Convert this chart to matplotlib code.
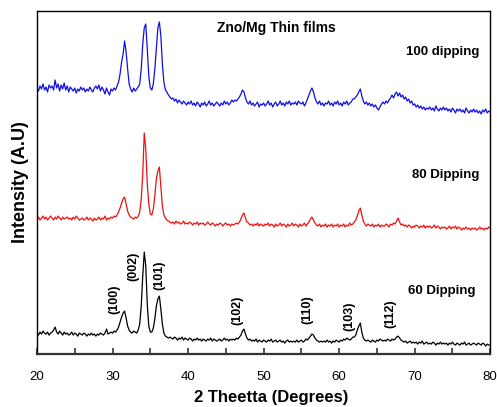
import matplotlib
matplotlib.use("Agg")
import matplotlib.pyplot as plt
from matplotlib.ticker import MultipleLocator
import numpy as np

plt.rcParams["font.family"] = ["Liberation Sans", "DejaVu Sans"]

# 2-theta grid, 0.2 deg steps from 20 to 80
two_theta = np.linspace(20, 80, 301)

# intensities (arbitrary units, offset for stacking), one row = 2 degrees
dip_100 = [
    266, 263, 268, 265, 270, 264, 267, 262, 269, 266,
    268, 264, 274, 266, 270, 263, 269, 265, 271, 264,
    268, 262, 267, 265, 263, 266, 261, 265, 263, 267,
    264, 266, 262, 265, 263, 267, 264, 262, 266, 268,
    265, 269, 263, 267, 264, 260, 266, 262, 259, 265,
    263, 266, 264, 268, 272, 280, 292, 300, 313, 302,
    285, 270, 265, 262, 266, 263, 265, 267, 270, 285,
    310, 326, 330, 305, 278, 266, 264, 270, 285, 305,
    326, 332, 318, 290, 272, 264, 262, 259, 257, 255,
    256, 253, 255, 251, 254, 252, 250, 253, 251, 249,
    252, 250, 253, 249, 251, 248, 252, 250, 247, 251,
    249, 252, 248, 250, 253, 249, 251, 248, 250, 252,
    250, 248, 251, 249, 253, 250, 252, 249, 251, 254,
    252, 254, 253, 255, 257, 260, 264, 262, 256, 252,
    250, 253, 249, 251, 248, 250, 252, 247, 250, 249,
    251, 248, 250, 253, 249, 251, 247, 250, 252, 248,
    250, 253, 249, 251, 248, 252, 250, 253, 249, 251,
    250, 252, 249, 253, 251, 250, 252, 248, 251, 255,
    259, 263, 266, 262, 256, 252, 250, 253, 249, 251,
    248, 251, 250, 253, 249, 251, 248, 252, 250, 253,
    249, 251, 248, 252, 250, 253, 249, 251, 252, 255,
    255, 257, 259, 262, 265, 258, 253, 250, 252, 249,
    251, 248, 250, 247, 249, 246, 244, 247, 250, 252,
    250, 253, 251, 254, 256, 259, 256, 260, 262, 258,
    261, 257, 259, 255, 257, 253, 255, 251, 253, 249,
    250, 247, 249, 246, 248, 245, 247, 244, 246, 245,
    247, 244, 246, 243, 248, 245, 243, 246, 244, 247,
    244, 246, 243, 245, 242, 246, 244, 241, 245, 243,
    245, 242, 244, 241, 246, 243, 241, 244, 242, 245,
    242, 244, 241, 243, 240, 244, 242, 245, 241, 243,
    242,
]

dip_80 = [
    135, 137, 134, 136, 138, 135, 137, 134, 136, 138,
    136, 134, 137, 135, 138, 136, 134, 137, 135, 136,
    137, 135, 136, 134, 137, 135, 138, 136, 134, 135,
    136, 134, 135, 137, 134, 136, 135, 133, 136, 134,
    135, 137, 134, 136, 135, 138, 134, 136, 135, 137,
    136, 138, 137, 139, 142, 146, 151, 155, 157, 150,
    143, 139, 137, 136, 135, 137, 136, 138, 142, 155,
    180, 221, 205, 170, 150, 140, 139, 145, 158, 175,
    183, 187, 168, 148, 139, 136, 134, 133, 132, 131,
    132, 130, 133, 131, 132, 130, 131, 133, 130, 131,
    130, 132, 131, 129, 131, 130, 132, 129, 131, 130,
    131, 129, 130, 132, 130, 129, 131, 130, 128, 130,
    129, 131, 130, 128, 130, 131, 129, 130, 128, 130,
    129, 130, 131, 130, 132, 135, 139, 141, 136, 132,
    131, 129, 130, 128, 130, 129, 131, 128, 130, 129,
    128, 130, 129, 131, 128, 130, 129, 127, 130, 128,
    129, 131, 128, 130, 129, 127, 130, 128, 129, 131,
    128, 130, 129, 127, 130, 128, 129, 131, 128, 130,
    132, 135, 137, 134, 131, 129, 128, 130, 127, 129,
    128, 130, 127, 129, 128, 130, 127, 129, 128, 130,
    127, 129, 128, 130, 127, 129, 128, 131, 129, 130,
    132, 134, 138, 143, 146, 139, 133, 130, 128, 130,
    129, 128, 130, 127, 129, 128, 130, 127, 129, 128,
    128, 130, 129, 127, 130, 129, 131, 130, 133, 136,
    132, 129, 130, 128, 129, 127, 129, 128, 126, 128,
    127, 129, 128, 126, 128, 127, 129, 126, 128, 127,
    128, 126, 127, 129, 126, 128, 127, 125, 127, 126,
    127, 125, 126, 128, 125, 127, 126, 128, 125, 127,
    126, 124, 126, 125, 127, 125, 126, 124, 126, 125,
    126, 124, 125, 127, 125, 126, 124, 126, 125, 127,
    126,
]

dip_60 = [
    21, 19, 22, 20, 23, 21, 20, 22, 19, 21,
    22, 24, 27, 22, 20, 23, 21, 19, 22, 20,
    21, 19, 20, 22, 19, 21, 20, 18, 21, 20,
    19, 21, 20, 18, 20, 19, 21, 19, 20, 18,
    20, 19, 21, 20, 19, 21, 25, 20, 21, 22,
    21, 23, 22, 24, 27, 32, 37, 41, 43, 36,
    28, 24, 22, 21, 23, 22, 21, 24, 30, 48,
    78, 102, 88, 50, 28, 22, 22, 26, 35, 48,
    55, 58, 45, 30, 21, 18, 17, 16, 17, 16,
    15, 17, 16, 14, 16, 15, 17, 14, 16, 15,
    14, 16, 15, 13, 15, 14, 16, 14, 15, 13,
    15, 14, 13, 15, 14, 16, 13, 15, 14, 13,
    14, 15, 13, 14, 16, 14, 15, 13, 15, 14,
    15, 14, 16, 15, 17, 19, 23, 25, 20, 16,
    14, 15, 13, 14, 13, 15, 12, 14, 13, 12,
    14, 13, 12, 14, 13, 15, 12, 13, 14, 12,
    13, 14, 12, 13, 11, 13, 14, 12, 13, 12,
    13, 12, 14, 12, 13, 14, 12, 13, 15, 14,
    16, 18, 20, 19, 16, 14, 13, 12, 13, 12,
    13, 12, 14, 12, 13, 11, 13, 12, 14, 13,
    12, 14, 13, 15, 14, 16, 15, 14, 15, 17,
    17, 19, 24, 28, 31, 22, 16, 14, 13, 14,
    13, 12, 14, 13, 12, 14, 13, 15, 14, 13,
    14, 13, 15, 14, 13, 15, 14, 15, 17, 18,
    16, 14, 13, 12, 13, 11, 12, 13, 11, 12,
    11, 12, 10, 12, 11, 13, 10, 11, 12, 10,
    11, 10, 12, 11, 9, 11, 10, 12, 10, 11,
    10, 11, 9, 11, 10, 12, 10, 9, 11, 10,
    9, 11, 10, 12, 9, 10, 11, 9, 10, 11,
    10, 9, 11, 10, 9, 11, 10, 8, 10, 9,
    9,
]

assert len(dip_100) == len(dip_80) == len(dip_60) == len(two_theta)

# miller indices for the 60 dipping peaks
hkl = ["(100)", "(002)", "(101)", "(102)", "(110)", "(103)", "(112)"]
hkl_x = [30.2, 32.7, 36.2, 46.5, 55.8, 61.3, 66.75]
hkl_y = [55, 88, 79, 44, 44, 38, 40]

fig = plt.figure(figsize=(4.97, 4.07), dpi=100)
ax = fig.add_axes([0.0744, 0.130, 0.912, 0.843])

ax.plot(two_theta, dip_60, color="black", lw=0.9)
ax.plot(two_theta, dip_80, color="#ee1111", lw=0.9)
ax.plot(two_theta, dip_100, color="#1010e0", lw=0.9)

ax.set_xlim(20, 80)
ax.set_ylim(0, 343)
ax.set_yticks([])
ax.xaxis.set_major_locator(MultipleLocator(10))
ax.xaxis.set_minor_locator(MultipleLocator(5))
ax.tick_params(axis="x", which="both", direction="in", length=4, width=1.2,
               labelsize=9.5, pad=12, color="#333333")
for s in ax.spines.values():
    s.set_linewidth(1.0)
ax.spines["bottom"].set_linewidth(1.6)
ax.spines["bottom"].set_color("#333333")

ax.set_xlabel("2 Theetta (Degrees)", fontsize=12, fontweight="bold")
ax.xaxis.set_label_coords(0.517, -0.105)
ax.set_ylabel("Intensity (A.U)", fontsize=13, fontweight="bold", labelpad=6)

ax.text(43.8, 326, "Zno/Mg Thin films", fontsize=10, fontweight="bold", va="center")
ax.text(78.5, 302, "100 dipping", fontsize=9.5, fontweight="bold", ha="right", va="center")
ax.text(78.5, 179, "80 Dipping", fontsize=9.5, fontweight="bold", ha="right", va="center")
ax.text(78.1, 63, "60 Dipping", fontsize=9.5, fontweight="bold", ha="right", va="center")

for lab, xx, yy in zip(hkl, hkl_x, hkl_y):
    ax.text(xx, yy, lab, rotation=90, fontsize=9, fontweight="bold",
            ha="center", va="center")

fig.savefig("out.png", dpi=100)
